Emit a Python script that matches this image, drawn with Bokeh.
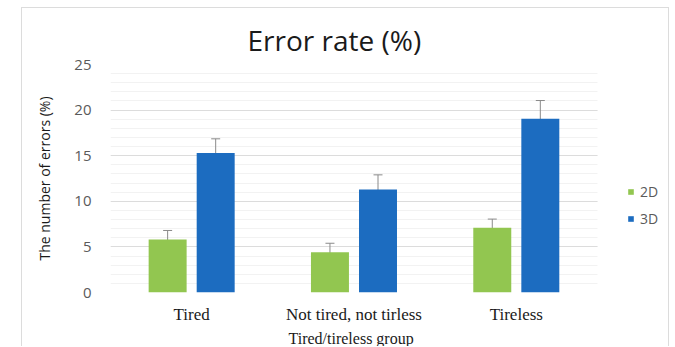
from bokeh.plotting import figure
from bokeh.models import (ColumnDataSource, Range1d, Whisker, Legend, LegendItem,
                          SingleIntervalTicker, FixedTicker, Title)
from bokeh.embed import file_html
from bokeh.resources import INLINE

categories = ["Tired", "Not tired, not tirless", "Tireless"]
series_names = ["2D", "3D"]
values_2d = [5.8, 4.4, 7.1]
errors_2d = [1.0, 1.0, 0.95]
values_3d = [15.3, 11.3, 19.05]
errors_3d = [1.55, 1.6, 2.0]

color_2d = "#92c650"
color_3d = "#1c6cc0"

off = 0.148
w = 0.234
centers = [i + 0.5 for i in range(len(categories))]

src = ColumnDataSource(dict(
    x2=[c - off for c in centers],
    x3=[c + off for c in centers],
    v2=values_2d,
    v3=values_3d,
    lo2=[v - e for v, e in zip(values_2d, errors_2d)],
    hi2=[v + e for v, e in zip(values_2d, errors_2d)],
    lo3=[v - e for v, e in zip(values_3d, errors_3d)],
    hi3=[v + e for v, e in zip(values_3d, errors_3d)],
))

p = figure(width=648, height=339, x_range=Range1d(0, 3.45),
           y_range=Range1d(0, 25), output_backend="svg", toolbar_location=None,
           min_border_left=88, min_border_right=0, min_border_top=56, min_border_bottom=50,
           styles={"margin": "7px 0px 0px 21px", "border": "1px solid #dcdcdc", "border-bottom": "none"})

p.add_layout(Title(text="Error rate (%)", align="left", text_font="Open Sans",
                   text_font_size="28px", text_font_style="normal", text_color="#1a1a1a",
                   offset=137, standoff=12), "above")

r2 = p.vbar(x="x2", top="v2", width=w, source=src, fill_color=color_2d, line_color=None)
r3 = p.vbar(x="x3", top="v3", width=w, source=src, fill_color=color_3d, line_color=None)

for base, lo, hi in [("x2", "lo2", "hi2"), ("x3", "lo3", "hi3")]:
    wk = Whisker(source=src, base=base, lower=lo, upper=hi, line_color="#8a8a8a", line_width=1)
    wk.upper_head.size = 9
    wk.lower_head.size = 9
    wk.upper_head.line_color = "#8a8a8a"
    wk.lower_head.line_color = "#8a8a8a"
    p.add_layout(wk)

p.outline_line_color = None
p.xgrid.grid_line_color = None
p.ygrid.grid_line_color = "#dcdcdc"
p.ygrid.minor_grid_line_color = "#f2f2f2"
p.ygrid.cross_bounds = (0, len(categories))
p.yaxis.ticker = SingleIntervalTicker(interval=5, num_minor_ticks=5)
p.yaxis.axis_line_color = None
p.yaxis.major_tick_line_color = None
p.yaxis.minor_tick_line_color = None
p.yaxis.major_label_text_font = "Open Sans"
p.yaxis.major_label_text_font_size = "15px"
p.yaxis.major_label_text_color = "#5a5a5a"
p.yaxis.major_label_standoff = 13
p.yaxis.axis_label = "The number of errors (%)"
p.yaxis.axis_label_text_font = "Open Sans"
p.yaxis.axis_label_text_font_size = "14px"
p.yaxis.axis_label_text_font_style = "normal"
p.yaxis.axis_label_text_color = "#1a1a1a"
p.yaxis.axis_label_standoff = 17

p.xaxis.ticker = FixedTicker(ticks=centers)
p.xaxis.major_label_overrides = {c: name for c, name in zip(centers, categories)}
p.xaxis.axis_line_color = None
p.xaxis.major_tick_line_color = None
p.xaxis.minor_tick_line_color = None
p.xaxis.major_label_text_font = "Liberation Serif"
p.xaxis.major_label_text_font_size = "17px"
p.xaxis.major_label_text_color = "#1a1a1a"
p.xaxis.major_label_standoff = 6

p.add_layout(Title(text="Tired/tireless group", align="left", text_font="Liberation Serif",
                   text_font_size="16px", text_font_style="normal", text_color="#1a1a1a",
                   offset=178, standoff=2), "below")

legend = Legend(items=[LegendItem(label=series_names[0], renderers=[r2]),
                       LegendItem(label=series_names[1], renderers=[r3])],
                location=(517, 64), orientation="vertical",
                glyph_width=7, glyph_height=7, label_height=14, spacing=8,
                label_standoff=6, padding=0, margin=0,
                border_line_color=None, background_fill_alpha=0,
                label_text_font="Open Sans", label_text_font_size="14px",
                label_text_color="#5a5a5a")
p.add_layout(legend, "center")

open("out.html", "w").write(file_html(p, INLINE))
